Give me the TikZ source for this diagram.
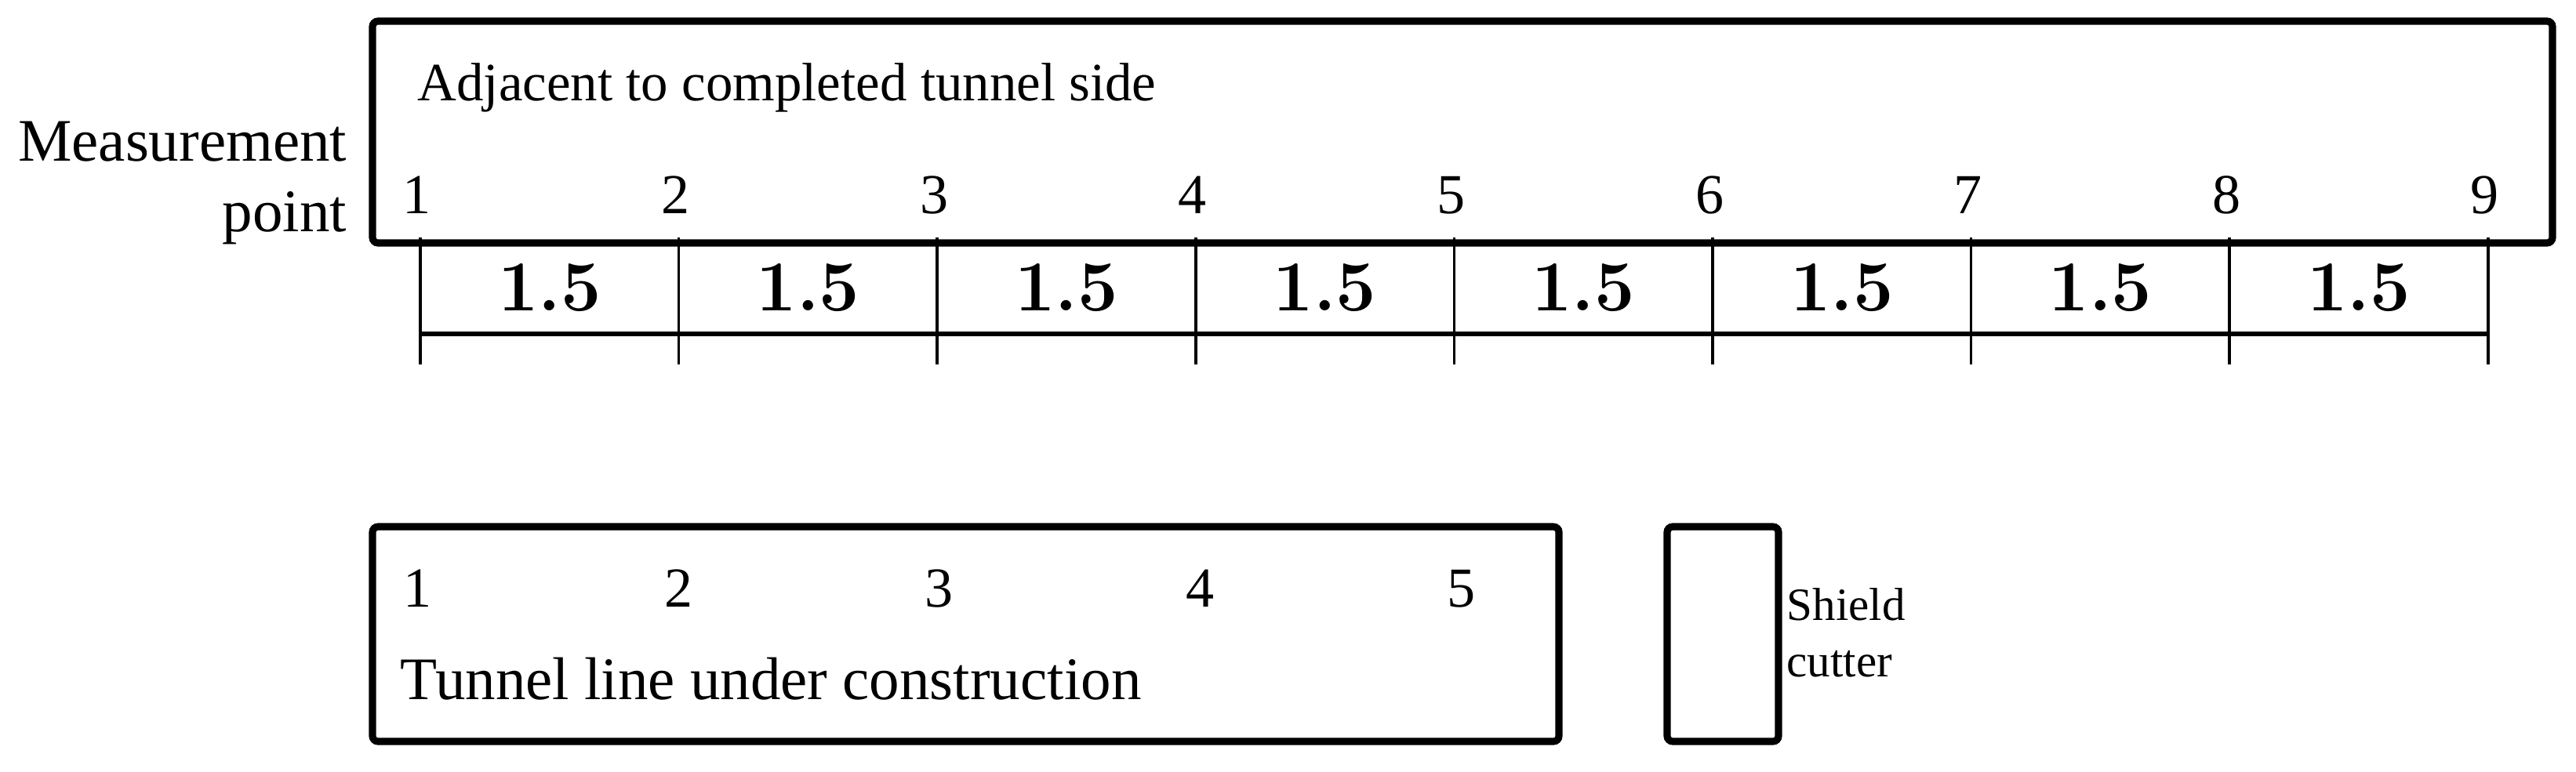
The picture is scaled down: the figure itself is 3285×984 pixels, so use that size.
\documentclass[tikz,border=0pt]{standalone}
\usepackage{fontspec}
\setmainfont{Liberation Serif}
\newfontfamily\segfont{Latin Modern Roman}

\tikzset{
    tunnelbox/.style={line width=2.6pt, rounded corners=2pt},
    dimtick/.style={line width=1pt},
    dimline/.style={line width=1.6pt},
    pointno/.style={inner sep=0pt, anchor=base, font=\fontsize{20.5pt}{24pt}\selectfont},
    seglen/.style={inner sep=0pt, font=\segfont\bfseries\fontsize{26pt}{30pt}\selectfont},
    sidetext/.style={inner sep=0pt, anchor=base west},
}

\begin{document}
\begin{tikzpicture}[x=0.01cm, y=-0.01cm]
    \useasboundingbox (0,0) rectangle (3285,984);

    % boxes
    \draw[tunnelbox] (475,27) rectangle (3255,310);
    \draw[tunnelbox] (475,672) rectangle (1988,946);
    \draw[tunnelbox] (2126,672) rectangle (2268,946);

    % completed tunnel
    \node[sidetext, font=\fontsize{19.6pt}{23pt}\selectfont] (done) at (532,128) {Adjacent to completed tunnel side};
    \node[inner sep=0pt, anchor=base east, font=\fontsize{21.9pt}{25pt}\selectfont] (meas) at (443,205) {Measurement};
    \node[inner sep=0pt, anchor=base east, font=\fontsize{21.9pt}{25pt}\selectfont] (measpt) at (443,295) {point};

    \foreach \i in {1,...,9}{
        \coordinate (top\i) at ({536+329.6*(\i-1)},303);
        \coordinate (bot\i) at ({536+329.6*(\i-1)},465);
        \coordinate (dim\i) at ({536+329.6*(\i-1)},426);
        \node[pointno] (p\i) at ({532+329.6*(\i-1)},272) {\i};
    }
    \foreach \i in {1,...,9}
        \draw[dimtick] (top\i) -- (bot\i);
    \draw[dimline] (dim1) -- (dim9);
    \foreach \i in {1,...,8}
        \node[seglen] (len\i) at ({536+329.6*(\i-0.5)},367) {1.5};

    % tunnel under construction
    \foreach \i in {1,...,5}
        \node[pointno] (q\i) at ({533+332.5*(\i-1)},774) {\i};
    \node[sidetext, font=\fontsize{21.9pt}{25pt}\selectfont] (build) at (510,892) {Tunnel line under construction};

    % shield
    \node[sidetext, font=\fontsize{16.8pt}{20pt}\selectfont] (shield) at (2278,791) {Shield};
    \node[sidetext, font=\fontsize{16.8pt}{20pt}\selectfont] (cutter) at (2278,863) {cutter};
\end{tikzpicture}
\end{document}
